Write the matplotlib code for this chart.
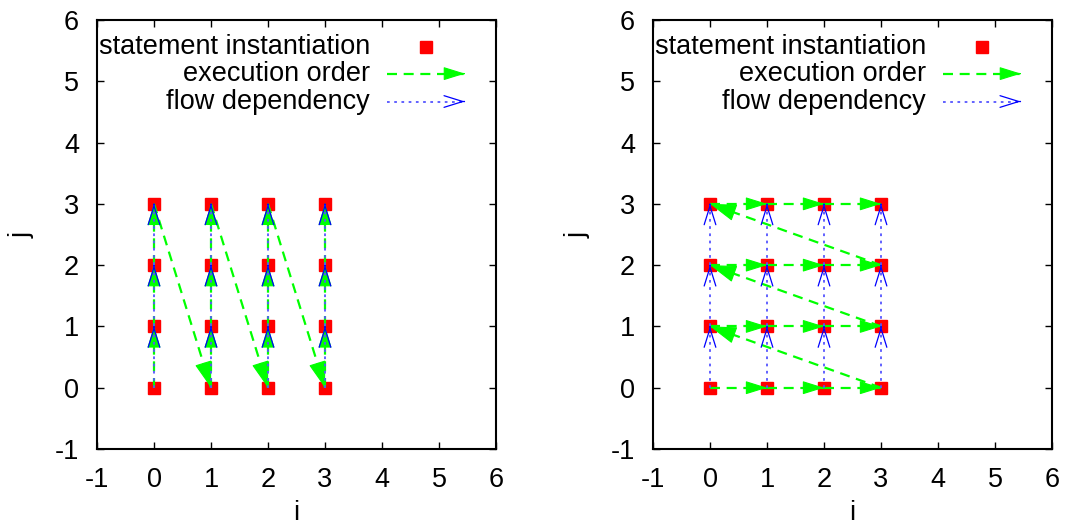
import matplotlib
matplotlib.use("Agg")
import matplotlib.pyplot as plt

plt.rcParams['font.family'] = ['Liberation Sans', 'DejaVu Sans']
plt.rcParams['axes.unicode_minus'] = False

# ---- data ----
# statement instantiations (i, j)
pts_i = [0, 0, 0, 0, 1, 1, 1, 1, 2, 2, 2, 2, 3, 3, 3, 3]
pts_j = [0, 1, 2, 3, 0, 1, 2, 3, 0, 1, 2, 3, 0, 1, 2, 3]

# execution order (sequence of visited points)
exec_i_left = [0, 0, 0, 0, 1, 1, 1, 1, 2, 2, 2, 2, 3, 3, 3, 3]
exec_j_left = [0, 1, 2, 3, 0, 1, 2, 3, 0, 1, 2, 3, 0, 1, 2, 3]
exec_i_right = [0, 1, 2, 3, 0, 1, 2, 3, 0, 1, 2, 3, 0, 1, 2, 3]
exec_j_right = [0, 0, 0, 0, 1, 1, 1, 1, 2, 2, 2, 2, 3, 3, 3, 3]

# flow dependencies (source -> destination)
flow_src_i = [0, 0, 0, 1, 1, 1, 2, 2, 2, 3, 3, 3]
flow_src_j = [0, 1, 2, 0, 1, 2, 0, 1, 2, 0, 1, 2]
flow_dst_i = [0, 0, 0, 1, 1, 1, 2, 2, 2, 3, 3, 3]
flow_dst_j = [1, 2, 3, 1, 2, 3, 1, 2, 3, 1, 2, 3]

ticks = [-1, 0, 1, 2, 3, 4, 5, 6]
legend_labels = ["statement instantiation", "execution order", "flow dependency"]

RED = "#ff0000"
GREEN = "#00ff00"
BLUE = "#0000ff"
FS = 19.5


def green_arrow(ax, x0, y0, x1, y1, big=False, transform=None):
    tr = transform if transform is not None else ax.transData
    ax.plot([x0, x1], [y0, y1], color=GREEN, lw=1.6, ls=(0, (4.5, 3)),
            transform=tr, zorder=3, clip_on=False)
    hl, hw = (17, 5.5) if big else (13.5, 4.2)
    ax.annotate("", xy=(x1, y1), xytext=(x1 - 0.01 * (x1 - x0), y1 - 0.01 * (y1 - y0)),
                xycoords=tr, textcoords=tr,
                arrowprops=dict(arrowstyle="-|>,head_length=%g,head_width=%g" % (hl, hw),
                                mutation_scale=1, color=GREEN, lw=0.8,
                                shrinkA=0, shrinkB=0),
                zorder=3, annotation_clip=False)


def blue_arrow(ax, x0, y0, x1, y1, transform=None):
    tr = transform if transform is not None else ax.transData
    ax.plot([x0, x1], [y0, y1], color="#5555ff", lw=1.3, ls=(0, (1.5, 2.5)),
            transform=tr, zorder=4, clip_on=False)
    ax.annotate("", xy=(x1, y1), xytext=(x1 - 0.01 * (x1 - x0), y1 - 0.01 * (y1 - y0)),
                xycoords=tr, textcoords=tr,
                arrowprops=dict(arrowstyle="->,head_length=13.5,head_width=4.2",
                                mutation_scale=1, color=BLUE, lw=0.9,
                                shrinkA=0, shrinkB=0),
                zorder=4, annotation_clip=False)


fig = plt.figure(figsize=(10.66, 5.26), dpi=100)
ax_l = fig.add_axes([97 / 1066, 77 / 526, 399 / 1066, 429 / 526])
ax_r = fig.add_axes([653 / 1066, 77 / 526, 399 / 1066, 429 / 526])

for ax, ei, ej in ((ax_l, exec_i_left, exec_j_left), (ax_r, exec_i_right, exec_j_right)):
    ax.set_xlim(-1, 6)
    ax.set_ylim(-1, 6)
    ax.set_xticks(ticks)
    ax.set_yticks(ticks)
    ax.tick_params(direction="in", length=5, width=1, top=True, right=True,
                   labelsize=FS, pad=13)
    ax.tick_params(axis="y", pad=13)
    for s in ax.spines.values():
        s.set_linewidth(1.5)
    ax.set_xlabel("i", fontsize=FS, labelpad=5)
    ax.set_ylabel("j", fontsize=FS, labelpad=14)

    # points
    ax.plot(pts_i, pts_j, ls="none", marker="s", ms=9, color=RED, mec=RED, zorder=2)
    # execution order
    for k in range(len(ei) - 1):
        x0, y0, x1, y1 = ei[k], ej[k], ei[k + 1], ej[k + 1]
        big = abs(x1 - x0) > 1 or abs(y1 - y0) > 1
        green_arrow(ax, x0, y0, x1, y1, big=big)
    # flow dependency
    for k in range(len(flow_src_i)):
        blue_arrow(ax, flow_src_i[k], flow_src_j[k], flow_dst_i[k], flow_dst_j[k])

    # legend (drawn manually, gnuplot style)
    tx = 0.684
    rows = [0.938, 0.875, 0.81]
    for lab, ry in zip(legend_labels, rows):
        ax.text(tx, ry, lab, transform=ax.transAxes, ha="right", va="center",
                fontsize=FS, zorder=5)
    ax.plot([0.824], [rows[0]], transform=ax.transAxes, ls="none", marker="s",
            ms=9, color=RED, zorder=5, clip_on=False)
    green_arrow(ax, 0.727, rows[1], 0.922, rows[1], transform=ax.transAxes)
    blue_arrow(ax, 0.727, rows[2], 0.922, rows[2], transform=ax.transAxes)

fig.savefig("out.png", dpi=100)
